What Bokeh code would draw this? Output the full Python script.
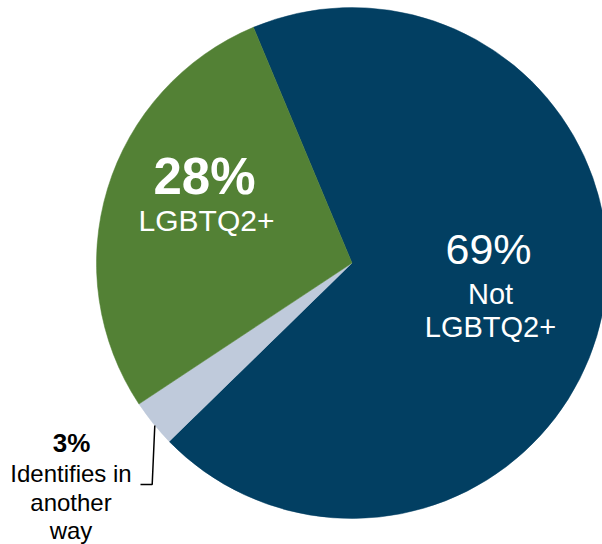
import math
from bokeh.plotting import figure
from bokeh.models import ColumnDataSource, Range1d
from bokeh.core.properties import value
from bokeh.embed import file_html
from bokeh.resources import INLINE

# data
categories = ["Not LGBTQ2+", "Identifies in another way", "LGBTQ2+"]
shares = [69, 3, 28]
colors = ["#023F62", "#BFCADB", "#538135"]

W, H = 602, 544
p = figure(width=W, height=H, output_backend="svg", toolbar_location=None,
           x_range=Range1d(0, W), y_range=Range1d(0, H),
           min_border=0, outline_line_color=None)
p.axis.visible = False
p.grid.visible = False
p.background_fill_color = "white"
p.border_fill_color = "white"

def Y(sy):
    return H - sy

cx, cy, r = 351.5, Y(262.5), 255.5
start0 = 112.7
starts, ends = [], []
a = start0
for s in shares:
    starts.append(math.radians(a))
    a -= s / 100 * 360
    ends.append(math.radians(a))

src = ColumnDataSource(dict(x=[cx] * 3, y=[cy] * 3, start=starts, end=ends,
                            color=colors, cat=categories))
p.wedge(x="x", y="y", radius=r, start_angle="start", end_angle="end",
        direction="clock", fill_color="color", line_color="color", line_width=0.5,
        source=src)

font = value("Liberation Sans")

def txt(x, sy, t, size, color, bold=False):
    sy = sy - 0.38 * size
    p.text(x=[x], y=[Y(sy)], text=[t], text_font=font,
           text_font_size=f"{size}px", text_color=color,
           text_font_style="bold" if bold else "normal",
           text_align="center", text_baseline="alphabetic")

# 69% label
txt(488, 265, f"{shares[0]}%", 43, "white")
txt(490, 305, "Not", 29, "white")
txt(490, 338, "LGBTQ2+", 29, "white")

# 28% label
txt(204, 195, f"{shares[2]}%", 51, "white", bold=True)
txt(206, 231, "LGBTQ2+", 30, "white")

# 3% label
txt(71, 452, f"{shares[1]}%", 26, "black", bold=True)
txt(70.5, 482, "Identifies in", 24, "black")
txt(70.5, 511, "another", 24, "black")
txt(70.5, 539, "way", 24, "black")

p.line(x=[154.3, 151.7, 140], y=[Y(425), Y(484), Y(484)], line_color="black",
       line_width=1.5)

open("out.html", "w").write(file_html(p, INLINE))
